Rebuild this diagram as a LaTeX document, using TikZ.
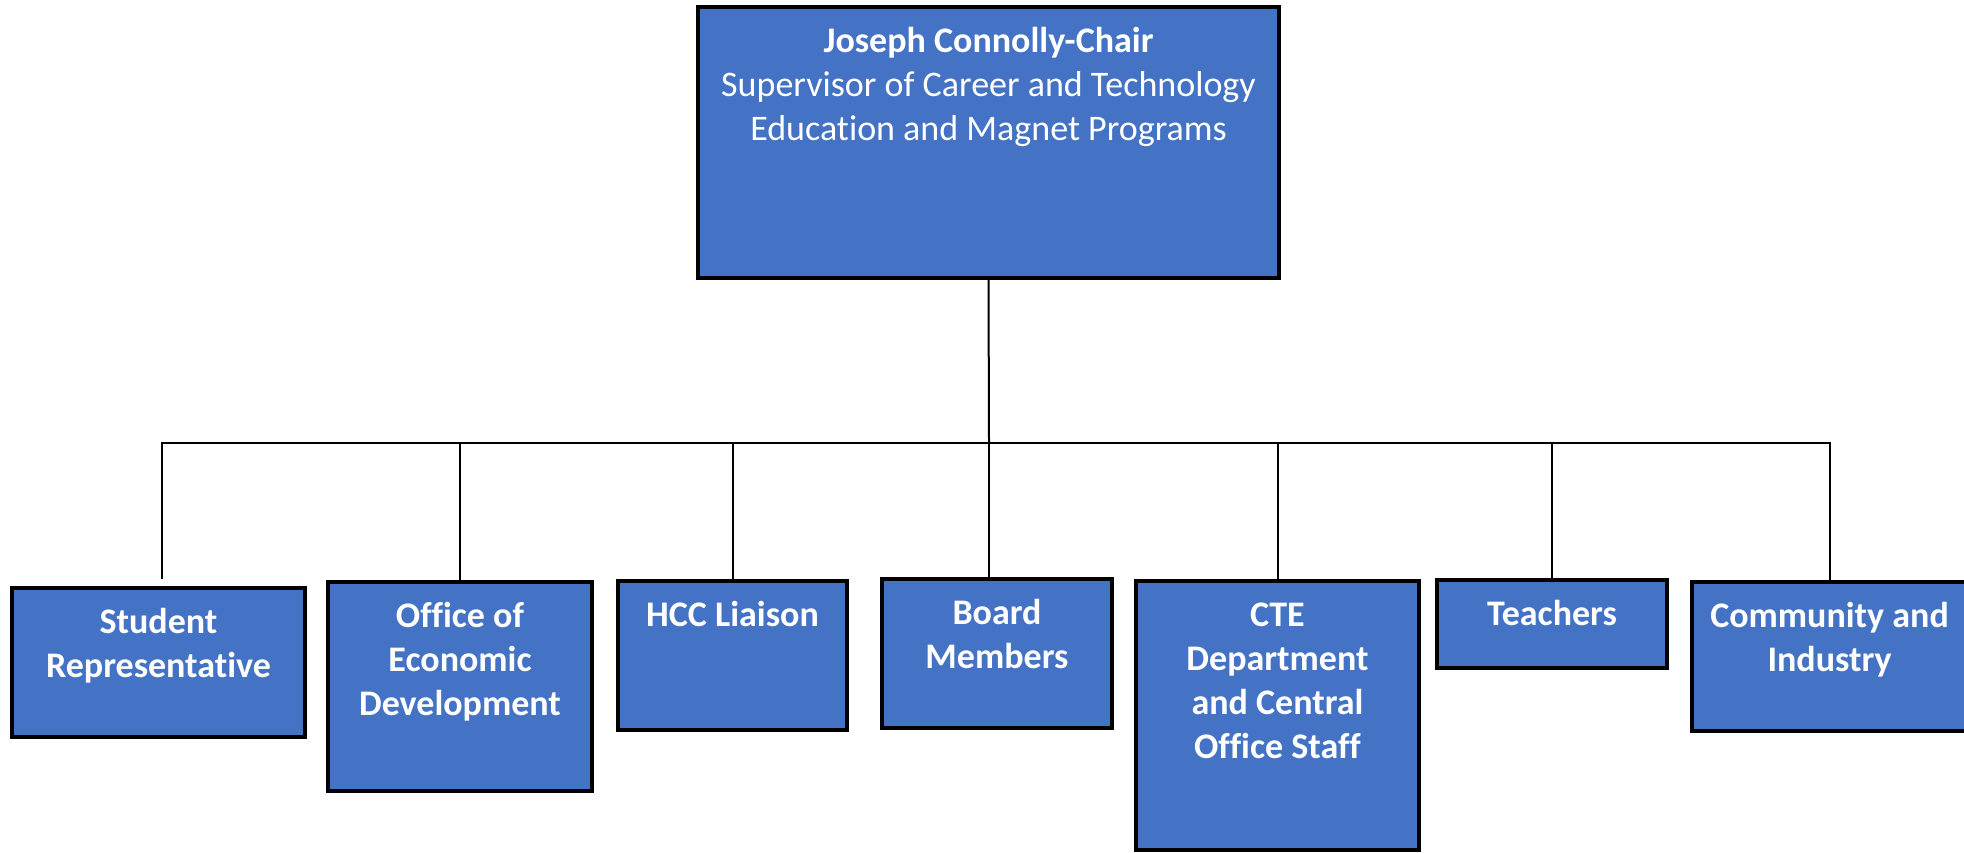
\documentclass[tikz,border=0pt]{standalone}
\usepackage{fontspec}
\setmainfont{Carlito}[Ligatures=NoCommon]
\usepackage{tikz}
\usetikzlibrary{positioning}
\definecolor{unitblue}{HTML}{4472C4}
\tikzset{
	% Box, text and line styles for the committee chart
	unit box/.style={draw,fill=unitblue,line width=1.65pt,inner sep=0},
	unit text/.style={text=white,align=center,inner sep=0,font=\fontsize{18}{22}\selectfont\bfseries},
	chair text/.style={text=white,align=center,inner sep=0,font=\fontsize{18}{22}\selectfont},
	link/.style={line width=1pt}
}

\begin{document}
\begin{tikzpicture}[x=0.5pt,y=-0.5pt]
			% macro for a unit box: name, left, top, right, bottom
			\newcommand{\orgunit}[5]{\node(#1)[unit box,minimum width={(#4-#2)*0.5pt},minimum height={(#5-#3)*0.5pt}]at({(#2+#4)/2},{(#3+#5)/2}){};}
			% macro for the text at the top of a unit box
			\newcommand{\unittext}[3][unit text]{\node[#1,below=8pt of #2.north]{\strut #3};}
			\useasboundingbox (0,0) rectangle (1964,852);

			\orgunit{chair}{698}{7}{1279}{278}
			\orgunit{stud}{12}{588}{305}{737}
			\orgunit{office}{328}{582}{592}{791}
			\orgunit{hcc}{618}{581}{847}{730}
			\orgunit{board}{882}{579}{1112}{728}
			\orgunit{cte}{1136}{581}{1419}{850}
			\orgunit{teach}{1437}{580}{1667}{668}
			\orgunit{comm}{1692}{582}{1967}{731}

			\unittext[chair text]{chair}{{\bfseries Joseph Connolly-Chair}\\Supervisor of Career and Technology\\Education and Magnet Programs}
			\unittext{stud}{Student\\Representative}
			\unittext{office}{Office of\\Economic\\Development}
			\unittext{hcc}{HCC Liaison}
			\unittext{board}{Board\\Members}
			\unittext{cte}{CTE\\Department\\and Central\\Office Staff}
			\unittext{teach}{Teachers}
			\unittext{comm}{Community and\\Industry}

			% connectors
			\coordinate(bus) at (989,443);
			\coordinate(stud end) at ([xshift=1.75pt,yshift=3.5pt]stud.north);
			\draw[link] (chair.south) -- (bus);
			\draw[link] (stud end) |- (bus) -| (comm.north);
			\draw[link] (bus) -- (bus |- board.north);
			\draw[link] (office.north) -- (office.north |- bus);
			\draw[link] (hcc.north) -- (hcc.north |- bus);
			\draw[link] (cte.north) -- (cte.north |- bus);
			\draw[link] (teach.north) -- (teach.north |- bus);
\end{tikzpicture}
\end{document}
